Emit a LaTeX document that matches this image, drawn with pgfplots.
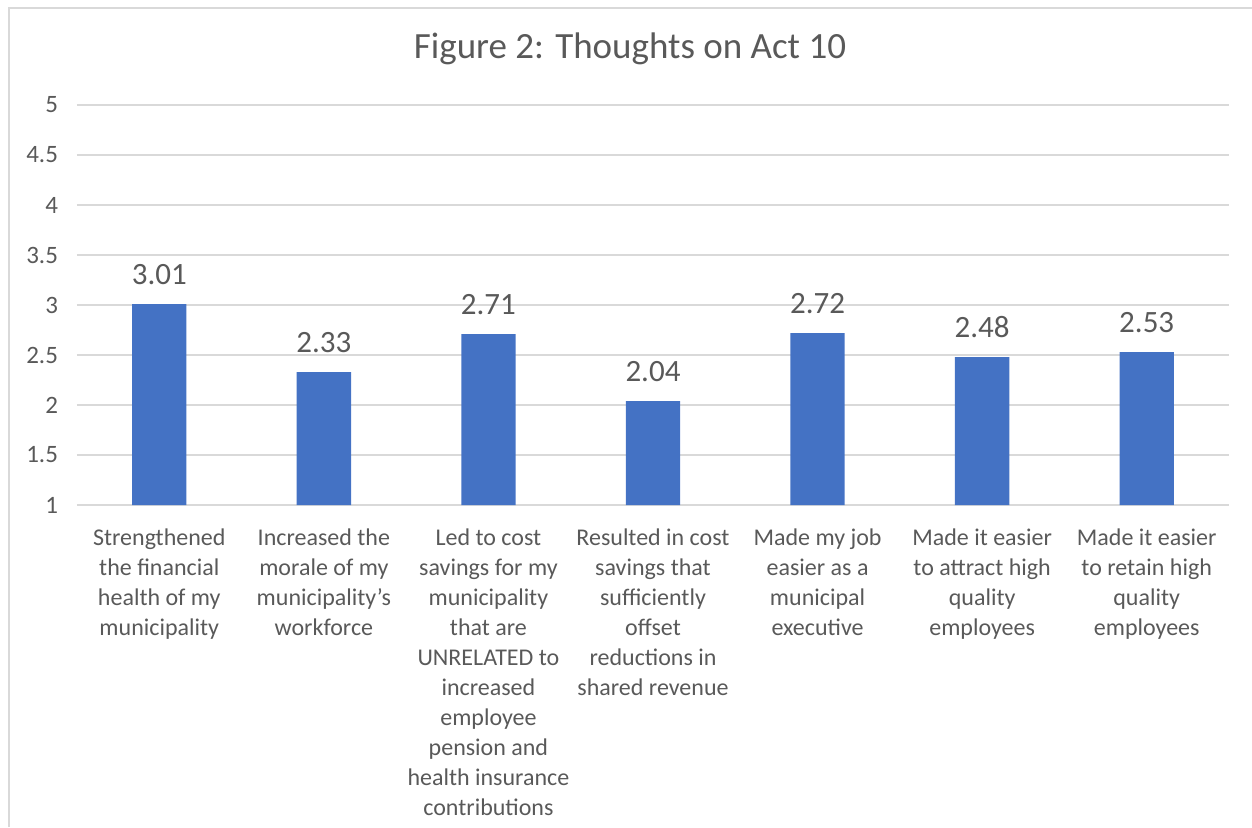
\documentclass[border=0pt]{standalone}
\usepackage{pgfplots}
\pgfplotsset{compat=1.18}
\usepackage{fontspec}
\setmainfont{Carlito}
\definecolor{barblue}{HTML}{4472C4}
\definecolor{gridgray}{HTML}{D9D9D9}
\definecolor{txtgray}{HTML}{595959}
\begin{document}
\begin{tikzpicture}
\useasboundingbox (0,0) rectangle (626pt,413.5pt);
\draw[gridgray, line width=1pt] (4.5pt,0) -- (4.5pt,409.5pt) -- (626pt,409.5pt);
\node[text=txtgray, font=\fontsize{18.5}{22}\selectfont, anchor=base, inner sep=0pt] at (315pt,384.5pt) {Figure 2: Thoughts on Act 10};
\begin{axis}[
  at={(38.5pt,161pt)}, anchor=south west,
  scale only axis, width=576pt, height=200pt,
  xmin=-0.5, xmax=6.5, ymin=1, ymax=5,
  ytick={1,1.5,2,2.5,3,3.5,4,4.5,5},
  yticklabels={1,1.5,2,2.5,3,3.5,4,4.5,5},
  ymajorgrids, grid style={draw=gridgray, line width=0.75pt},
  axis line style={draw=none}, tick style={draw=none},
  xtick={0,1,2,3,4,5,6},
  xticklabels={
    {Strengthened\\the financial\\health of my\\municipality},
    {Increased the\\morale of my\\municipality’s\\workforce},
    {Led to cost\\savings for my\\municipality\\that are\\UNRELATED to\\increased\\employee\\pension and\\health insurance\\contributions},
    {Resulted in cost\\savings that\\sufficiently\\offset\\reductions in\\shared revenue},
    {Made my job\\easier as a\\municipal\\executive},
    {Made it easier\\to attract high\\quality\\employees},
    {Made it easier\\to retain high\\quality\\employees}},
  xticklabel style={align=center, text=txtgray, font=\fontsize{12}{15}\selectfont, yshift=-4pt},
  yticklabel style={text=txtgray, font=\fontsize{12.5}{15}\selectfont, xshift=-6pt},
  ybar, bar width=0.33,
  nodes near coords,
  nodes near coords style={text=txtgray, font=\fontsize{15.5}{18}\selectfont, yshift=6pt,
    /pgf/number format/fixed, /pgf/number format/precision=2, /pgf/number format/fixed zerofill},
  /pgf/number format/assume math mode=true,
]
\addplot[fill=barblue, draw=none] coordinates {(0,3.01) (1,2.33) (2,2.71) (3,2.04) (4,2.72) (5,2.48) (6,2.53)};
\end{axis}
\end{tikzpicture}
\end{document}
